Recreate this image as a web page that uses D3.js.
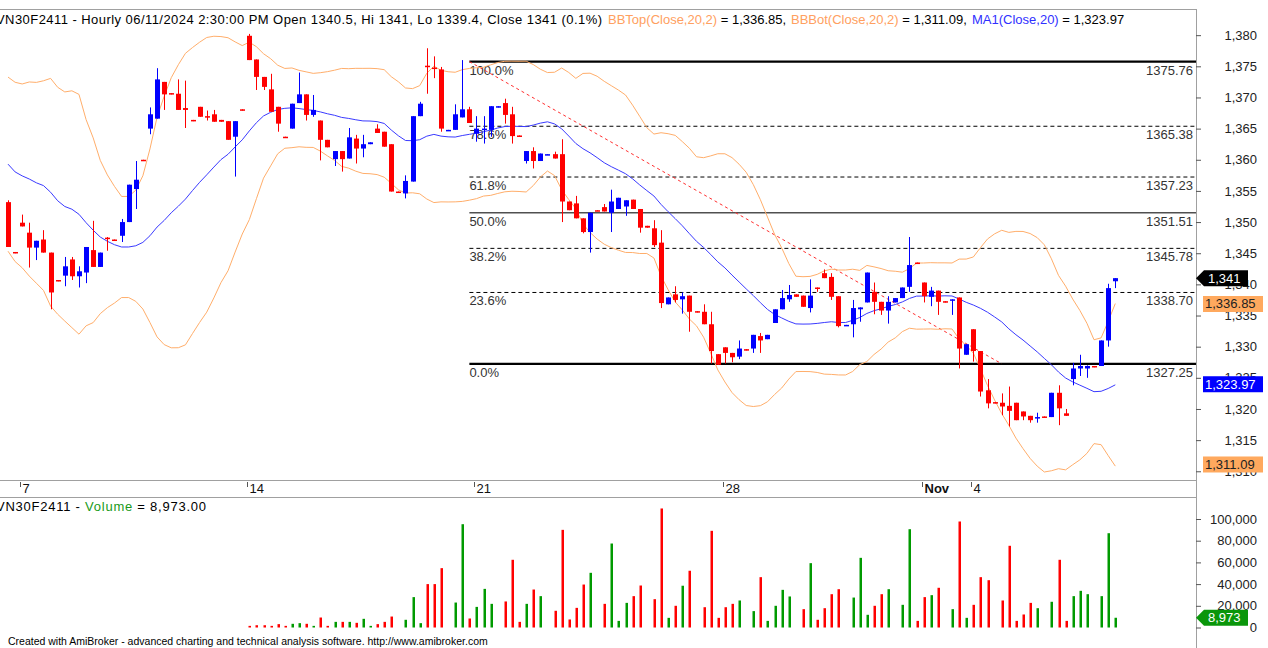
<!DOCTYPE html>
<html lang="en">
<head>
	<meta charset="utf-8">
	<title>VN30F2411 Hourly</title>
	<script src="https://d3js.org/d3.v7.min.js"></script>
	<style type="text/css">
		body{ margin: 0; background: #fff; }
		svg{ display: block; font-family: Arial, "Liberation Sans", sans-serif; }
	</style>
</head>
<body>
	<svg id="chart" width="1268" height="648"></svg>

	<script type="text/javascript">

	// hourly bars, VN30F2411, 7 Oct - 6 Nov 2024
	var opens = [1353.2,1345.2,1349.9,1348.3,1345.9,1347.2,1345.1,1340.7,1341.4,1344.0,
		1341.3,1341.9,1345.5,1342.8,1347.5,1347.2,1347.8,1350.0,1355.3,1360.0,
		1365.0,1366.6,1372.5,1370.7,1370.6,1368.3,1366.4,1368.5,1367.0,1367.3,
		1366.4,1366.2,1363.7,1368.1,1379.9,1376.1,1373.3,1371.3,1368.5,1363.7,
		1365.0,1369.1,1370.5,1367.2,1366.3,1363.2,1360.1,1361.4,1360.2,1363.4,
		1361.8,1362.5,1365.0,1364.5,1362.5,1354.9,1354.6,1356.5,1367.0,1375.1,
		1374.8,1374.5,1364.7,1364.8,1366.8,1368.1,1364.2,1364.9,1364.8,1368.4,
		1369.1,1367.3,1363.9,1359.8,1361.4,1359.8,1360.8,1360.9,1360.9,1353.3,
		1353.0,1350.6,1348.4,1351.9,1352.4,1351.5,1352.1,1352.5,1353.6,1352.1,
		1349.4,1349.0,1346.7,1336.8,1338.4,1337.6,1338.2,1335.7,1335.6,1333.6,
		1328.8,1329.9,1329.0,1328.4,1329.6,1329.7,1331.7,1331.2,1333.8,1336.0,
		1337.6,1338.4,1338.2,1336.2,1339.5,1341.8,1341.2,1338.1,1333.4,1333.6,
		1336.0,1337.1,1338.8,1337.2,1335.8,1337.1,1337.8,1339.6,1343.5,1340.3,
		1338.0,1339.0,1337.3,1337.4,1337.9,1328.7,1332.8,1329.3,1323.0,1321.1,
		1321.0,1320.5,1321.0,1319.6,1318.9,1318.6,1318.8,1318.7,1322.6,1319.3,
		1324.8,1326.5,1326.5,1326.9,1326.9,1331.0,1340.5]
	var highs = [1353.5,1345.2,1351.2,1349.9,1347.0,1348.7,1345.1,1340.7,1344.4,1344.4,
		1342.9,1346.0,1350.2,1345.1,1347.6,1347.2,1350.5,1356.0,1359.8,1360.0,
		1368.4,1374.7,1372.5,1370.7,1372.9,1372.7,1366.4,1368.5,1367.9,1368.0,
		1366.4,1366.2,1366.2,1368.1,1380.2,1376.1,1373.3,1373.8,1368.5,1363.7,
		1369.0,1374.0,1370.5,1370.4,1366.3,1363.2,1361.4,1361.4,1365.1,1364.0,
		1364.0,1362.8,1365.7,1364.5,1362.5,1354.9,1357.5,1367.0,1369.3,1377.9,
		1376.6,1374.9,1364.8,1368.9,1376.0,1368.5,1367.0,1367.0,1368.6,1368.6,
		1369.8,1368.5,1363.9,1361.4,1362.0,1361.0,1360.9,1361.3,1363.3,1353.3,
		1354.2,1350.6,1351.5,1351.9,1352.9,1355.2,1353.9,1353.5,1353.6,1352.1,
		1349.4,1350.3,1348.7,1337.9,1339.7,1338.7,1338.2,1335.7,1336.8,1335.6,
		1328.8,1329.9,1329.0,1331.0,1329.6,1331.9,1332.2,1331.9,1336.0,1339.1,
		1339.9,1338.4,1338.2,1340.8,1339.5,1342.4,1341.8,1338.1,1333.5,1337.5,
		1336.3,1341.9,1340.3,1337.2,1338.1,1337.8,1339.5,1347.6,1343.5,1340.3,
		1339.6,1339.0,1337.3,1337.6,1337.9,1330.4,1332.8,1329.3,1324.8,1321.1,
		1322.5,1323.6,1321.0,1319.6,1318.9,1319.4,1318.8,1322.6,1323.8,1320.0,
		1327.4,1328.7,1327.0,1326.9,1331.0,1340.1,1341.0]
	var lows = [1346.0,1345.0,1349.3,1342.7,1343.9,1345.1,1336.0,1340.5,1339.7,1340.7,
		1339.5,1340.2,1342.8,1342.8,1345.4,1347.0,1346.8,1350.0,1352.1,1359.8,
		1364.1,1366.6,1368.0,1370.5,1368.0,1365.1,1366.2,1366.9,1366.3,1366.1,
		1366.1,1363.2,1357.3,1367.9,1376.0,1371.2,1371.2,1367.7,1364.5,1363.5,
		1365.0,1369.1,1366.3,1366.9,1359.9,1362.0,1359.0,1358.1,1360.2,1359.4,
		1360.4,1362.5,1364.3,1362.1,1354.9,1354.7,1353.8,1356.5,1367.0,1370.6,
		1373.1,1364.5,1364.7,1364.8,1366.8,1365.9,1362.9,1362.6,1363.7,1368.4,
		1365.8,1362.6,1363.7,1359.4,1358.6,1359.8,1360.8,1360.2,1350.0,1351.9,
		1350.6,1348.2,1345.1,1351.8,1351.7,1348.4,1352.1,1351.0,1352.1,1348.3,
		1349.1,1346.0,1336.2,1336.8,1337.1,1335.3,1332.4,1335.5,1333.6,1327.3,
		1327.1,1327.3,1327.5,1328.0,1329.4,1329.0,1329.0,1331.2,1333.8,1336.0,
		1337.2,1338.0,1336.4,1335.5,1338.8,1341.0,1337.5,1333.1,1333.4,1331.5,
		1334.0,1337.1,1335.2,1335.1,1333.7,1337.1,1337.8,1338.8,1343.3,1337.1,
		1336.5,1335.1,1337.1,1335.1,1326.5,1328.7,1327.6,1322.0,1320.1,1320.9,
		1319.0,1317.2,1318.2,1318.2,1317.8,1317.8,1318.6,1318.7,1317.4,1318.9,
		1323.8,1325.3,1325.0,1326.7,1326.9,1330.0,1339.4]
	var closes = [1346.0,1345.0,1349.3,1345.9,1347.0,1345.1,1338.7,1340.6,1342.9,1341.3,
		1342.1,1346.0,1342.8,1345.1,1347.3,1347.0,1350.0,1356.0,1356.8,1359.9,
		1367.3,1372.9,1370.5,1370.6,1368.0,1368.0,1366.3,1366.9,1366.9,1366.1,
		1366.1,1363.2,1366.2,1368.0,1376.0,1373.3,1371.7,1367.7,1365.8,1363.6,
		1369.0,1370.5,1367.2,1368.0,1363.2,1362.0,1361.4,1360.1,1363.6,1361.8,
		1362.5,1362.8,1364.3,1362.1,1354.9,1354.8,1356.6,1367.0,1369.0,1375.0,
		1374.7,1365.0,1364.8,1367.3,1368.1,1365.9,1365.0,1365.0,1368.6,1368.6,
		1367.2,1363.8,1363.8,1361.4,1359.8,1361.0,1360.9,1360.2,1353.3,1351.9,
		1350.6,1348.4,1351.5,1351.8,1351.7,1353.3,1353.9,1353.5,1352.1,1349.1,
		1349.1,1346.3,1337.0,1337.9,1337.5,1338.1,1335.6,1335.6,1333.6,1329.3,
		1327.1,1329.0,1328.3,1329.7,1329.5,1331.9,1331.0,1331.9,1336.0,1337.8,
		1338.3,1338.0,1336.4,1338.2,1339.4,1341.0,1338.0,1333.3,1333.5,1336.2,
		1336.3,1341.9,1337.2,1335.8,1337.2,1337.8,1339.5,1343.1,1343.4,1338.1,
		1339.0,1337.2,1337.2,1337.6,1329.7,1330.4,1329.3,1322.8,1320.9,1321.0,
		1320.4,1319.7,1318.2,1318.8,1318.2,1318.7,1318.7,1322.6,1320.1,1318.9,
		1326.5,1326.9,1326.9,1326.8,1331.0,1339.4,1341.0]
	var volumes = [0,0,0,0,0,0,0,0,0,0,
		0,0,0,0,0,0,0,0,0,0,
		0,0,0,0,0,0,0,0,0,0,
		0,0,0,0,1500,2100,2100,1500,3100,1500,
		3400,4000,3400,1500,9200,1500,5200,5200,5200,4300,
		8000,1500,3100,5200,10100,0,7100,28000,4000,40000,
		40000,54700,0,23000,95200,8300,19000,35600,21800,0,
		24000,62400,5200,21800,35000,28900,0,15400,90000,7400,
		18100,39600,50400,0,21800,77400,6100,22700,28900,38700,
		0,26100,109700,8900,20000,38500,52300,0,18700,89100,
		8900,18700,21800,24900,0,15100,46400,6100,20000,34700,
		28600,0,16900,59300,7100,17800,30700,35300,0,27600,
		64200,11700,20000,30700,35300,0,20900,90600,6100,28000,
		29800,36600,0,16900,97700,8900,20900,46400,43600,0,
		24900,75300,6100,12000,22700,17800,0,23700,62400,6100,
		28900,33800,30700,0,28900,86900,8973]

	// the 19 closes before the first visible bar, needed by the 20-bar MA / bands
	var preCloses = [1370, 1362, 1356, 1359.2, 1354, 1360, 1368, 1361.3, 1350, 1358.4,
		1373, 1367, 1366.9, 1361, 1358, 1357.3, 1356, 1352.9, 1349]

	// day labels on the date axis (bar index of first bar of that day)
	var dayTickIdx = [2, 34, 66, 101, 129, 136]
	var dayTickLabels = ["7", "14", "21", "28", "Nov", "4"]

	// fibonacci retracement drawn from bar 65 (high) to bar 140 (low)
	var fibFrom = {i: 65, v: 1375.76}
	var fibTo = {i: 140, v: 1327.25}
	var fibPcts = ["100.0%", "78.6%", "61.8%", "50.0%", "38.2%", "23.6%", "0.0%"]
	var fibValues = [1375.76, 1365.38, 1357.23, 1351.51, 1345.78, 1338.70, 1327.25]
	var fibStyles = ["solid", "dash", "dash", "mid", "dash", "dash", "solid"]

	// readouts shown in the title and on the right axis
	var lastBBTop = 1336.85, lastBBBot = 1311.09, lastMA = 1323.97

	var priceTicks = [1310, 1315, 1320, 1325, 1330, 1335, 1340, 1345, 1350, 1355, 1360, 1365, 1370, 1375, 1380]
	var volTicks = [0, 20000, 40000, 60000, 80000, 100000]

	// colours
	var upCol = "#0000ff", downCol = "#ff0000"
	var volUp = "#009a00", volDown = "#ff0000"
	var bandCol = "#ffae6b", maCol = "#3a3aff"
	var gridCol = "#a0a0a0"

	// layout
	var axisX = 1196
	var priceTop = 9, priceBottom = 480
	var volTop = 497, volZero = 627.5
	var fs = 13

	var N = closes.length
	var x = d3.scaleLinear().domain([0, N - 1]).range([8, 1115.3])
	var y = d3.scaleLinear().domain([1308.6, 1384.2]).range([priceBottom, priceTop])
	var yv = d3.scaleLinear().domain([0, 100000]).range([volZero, 519])

	var bars = closes.map((c, i) => ({i: i, o: opens[i], h: highs[i], l: lows[i], c: c, v: volumes[i]}))

	// MA(20) and Bollinger (20,2)
	var allCloses = preCloses.concat(closes)
	var ind = closes.map((c, i) => {
		var win = allCloses.slice(i, i + 20)
		var m = d3.mean(win)
		var sd = Math.sqrt(d3.mean(win, v => (v - m) * (v - m)))
		return {i: i, ma: m, top: m + 2 * sd, bot: m - 2 * sd}
	})

	var svg = d3.select("#chart")

	svg.append("defs").append("clipPath").attr("id", "priceClip")
		.append("rect").attr("x", 0).attr("y", priceTop).attr("width", axisX).attr("height", priceBottom - priceTop)

	// frame lines
	svg.append("line").attr("x1", 0).attr("x2", axisX).attr("y1", priceTop + 0.5).attr("y2", priceTop + 0.5)
		.attr("stroke", gridCol)
	svg.append("line").attr("x1", 0).attr("x2", axisX).attr("y1", priceBottom + 0.5).attr("y2", priceBottom + 0.5)
		.attr("stroke", gridCol)
	svg.append("line").attr("x1", 0).attr("x2", axisX).attr("y1", volTop + 0.5).attr("y2", volTop + 0.5)
		.attr("stroke", gridCol)
	svg.append("line").attr("x1", axisX + 0.5).attr("x2", axisX + 0.5).attr("y1", priceTop).attr("y2", 648)
		.attr("stroke", gridCol)

	var plot = svg.append("g").attr("clip-path", "url(#priceClip)")

	// fib retracement levels
	var fibX0 = x(fibFrom.i)
	var fib = plot.append("g")
	fib.selectAll("line")
		.data(fibValues)
		.join("line")
		.attr("x1", fibX0).attr("x2", axisX)
		.attr("y1", d => y(d)).attr("y2", d => y(d))
		.attr("stroke", (d, i) => fibStyles[i] == "mid" ? "#505050" : "#000")
		.attr("stroke-width", (d, i) => fibStyles[i] == "solid" ? 2.2 : fibStyles[i] == "mid" ? 1.5 : 1)
		.attr("stroke-dasharray", (d, i) => fibStyles[i] == "dash" ? "4,3" : null)
	fib.selectAll("text.pct")
		.data(fibValues)
		.join("text")
		.attr("class", "pct")
		.attr("x", fibX0).attr("y", d => y(d) + 13)
		.attr("font-size", fs).attr("fill", "#333")
		.text((d, i) => fibPcts[i])
	fib.selectAll("text.val")
		.data(fibValues)
		.join("text")
		.attr("class", "val")
		.attr("x", axisX - 3).attr("y", d => y(d) + 13)
		.attr("text-anchor", "end")
		.attr("font-size", fs).attr("fill", "#333")
		.text(d => d.toFixed(2))

	// trend line of the retracement
	plot.append("line")
		.attr("x1", x(fibFrom.i)).attr("y1", y(fibFrom.v))
		.attr("x2", x(fibTo.i)).attr("y2", y(fibTo.v))
		.attr("stroke", "#ff3030").attr("stroke-dasharray", "3,3")

	// bands + MA
	var lineOf = key => d3.line().x(d => x(d.i)).y(d => y(d[key]))
	plot.append("path").attr("d", lineOf("top")(ind)).attr("fill", "none").attr("stroke", bandCol)
	plot.append("path").attr("d", lineOf("bot")(ind)).attr("fill", "none").attr("stroke", bandCol)
	plot.append("path").attr("d", lineOf("ma")(ind)).attr("fill", "none").attr("stroke", maCol)

	// candles
	var candle = plot.append("g").selectAll("g")
		.data(bars)
		.join("g")
		.attr("fill", d => d.c >= d.o ? upCol : downCol)
		.attr("stroke", d => d.c >= d.o ? upCol : downCol)
	candle.append("line")
		.attr("x1", d => Math.round(x(d.i)) + 0.5).attr("x2", d => Math.round(x(d.i)) + 0.5)
		.attr("y1", d => y(d.h)).attr("y2", d => y(d.l))
		.attr("stroke-width", 1)
	candle.append("rect")
		.attr("stroke", "none")
		.attr("x", d => Math.round(x(d.i)) - 2)
		.attr("width", 5)
		.attr("y", d => y(Math.max(d.o, d.c)))
		.attr("height", d => Math.max(1.5, Math.abs(y(d.o) - y(d.c))))

	// volume
	svg.append("g").selectAll("rect")
		.data(bars.filter(d => d.v > 0))
		.join("rect")
		.attr("x", d => Math.round(x(d.i)) - 0.5)
		.attr("width", 2.5)
		.attr("y", d => yv(d.v))
		.attr("height", d => volZero - yv(d.v))
		.attr("fill", d => d.c >= d.o ? volUp : volDown)

	// price axis
	var yAxis = svg.append("g")
		.attr("transform", "translate(" + axisX + ",0)")
		.call(d3.axisRight(y).tickValues(priceTicks).tickSize(5).tickFormat(d3.format(",")))
	yAxis.select(".domain").remove()
	yAxis.selectAll("line").attr("stroke", "#555")
	yAxis.selectAll("text").attr("x", 61).attr("text-anchor", "end")
		.attr("font-size", fs).attr("font-family", "Arial, 'Liberation Sans', sans-serif").attr("fill", "#222")

	var vAxis = svg.append("g")
		.attr("transform", "translate(" + axisX + ",0)")
		.call(d3.axisRight(yv).tickValues(volTicks).tickSize(5).tickFormat(d3.format(",")))
	vAxis.select(".domain").remove()
	vAxis.selectAll("line").attr("stroke", "#555")
	vAxis.selectAll("text").attr("x", 61).attr("text-anchor", "end")
		.attr("font-size", fs).attr("font-family", "Arial, 'Liberation Sans', sans-serif").attr("fill", "#222")

	// date axis
	var dateAxis = svg.append("g").selectAll("g")
		.data(dayTickIdx)
		.join("g")
		.attr("transform", d => "translate(" + (Math.round(x(d)) - 1.5) + ",0)")
	dateAxis.append("line").attr("y1", priceBottom + 2).attr("y2", priceBottom + 7).attr("stroke", "#555")
	dateAxis.append("text")
		.attr("x", 2).attr("y", priceBottom + 13)
		.attr("font-size", fs).attr("fill", "#111")
		.attr("font-weight", (d, i) => dayTickLabels[i] == "Nov" ? "bold" : null)
		.text((d, i) => dayTickLabels[i])

	// right-axis value tags
	function tag(v, scale, bg, fg, label, arrow) {
		var yy = scale(v)
		var g = svg.append("g")
		if (arrow) {
			g.append("path")
				.attr("d", "M" + axisX + "," + yy + " L" + (axisX + 8) + "," + (yy - 8) + " L1248," + (yy - 8) +
					" L1248," + (yy + 8) + " L" + (axisX + 8) + "," + (yy + 8) + " Z")
				.attr("fill", bg)
		} else {
			g.append("rect").attr("x", 1203).attr("y", yy - 8).attr("width", 60).attr("height", 16).attr("fill", bg)
		}
		g.append("text")
			.attr("x", arrow ? 1208 : 1205).attr("y", yy + 4.5)
			.attr("font-size", fs).attr("fill", fg)
			.text(label)
	}
	var last = bars[N - 1]
	tag(last.c, y, "#000", "#fff", d3.format(",")(last.c), true)
	tag(lastBBTop, y, "#ffa95e", "#222", d3.format(",.2f")(lastBBTop), false)
	tag(lastMA, y, "#0000ff", "#fff", d3.format(",.2f")(lastMA), false)
	tag(lastBBBot, y, "#ffa95e", "#222", d3.format(",.2f")(lastBBBot), false)
	tag(last.v, yv, "#0a960a", "#fff", d3.format(",")(last.v), true)

	// titles
	svg.append("text").attr("x", -4).attr("y", 24).attr("font-size", fs).attr("fill", "#000")
		.attr("textLength", 606).attr("lengthAdjust", "spacing")
		.text("VN30F2411 - Hourly 06/11/2024 2:30:00 PM Open " + last.o + ", Hi " + last.h +
			", Lo " + last.l + ", Close " + last.c + " (0.1%)")
	var title = svg.append("text").attr("y", 24).attr("font-size", fs).attr("fill", "#000")
	title.append("tspan").attr("x", 608).attr("fill", "#ffa060").text("BBTop(Close,20,2)")
	title.append("tspan").text(" = " + d3.format(",.2f")(lastBBTop) + ",")
	title.append("tspan").attr("x", 791).attr("fill", "#ffa060").text("BBBot(Close,20,2)")
	title.append("tspan").text(" = " + d3.format(",.2f")(lastBBBot) + ",")
	title.append("tspan").attr("x", 972).attr("fill", "#3030ff").text("MA1(Close,20)")
	title.append("tspan").text(" = " + d3.format(",.2f")(lastMA))

	var vTitle = svg.append("text").attr("x", -4).attr("y", 511).attr("font-size", fs).attr("fill", "#000")
		.attr("textLength", 210).attr("lengthAdjust", "spacing")
	vTitle.append("tspan").text("VN30F2411 - ")
	vTitle.append("tspan").attr("fill", "#1a9a1a").text("Volume")
	vTitle.append("tspan").text(" = " + d3.format(",.2f")(last.v))

	svg.append("text").attr("x", 8).attr("y", 645).attr("font-size", 10.5).attr("fill", "#000")
		.text("Created with AmiBroker - advanced charting and technical analysis software. http://www.amibroker.com")

	</script>
</body>
</html>
